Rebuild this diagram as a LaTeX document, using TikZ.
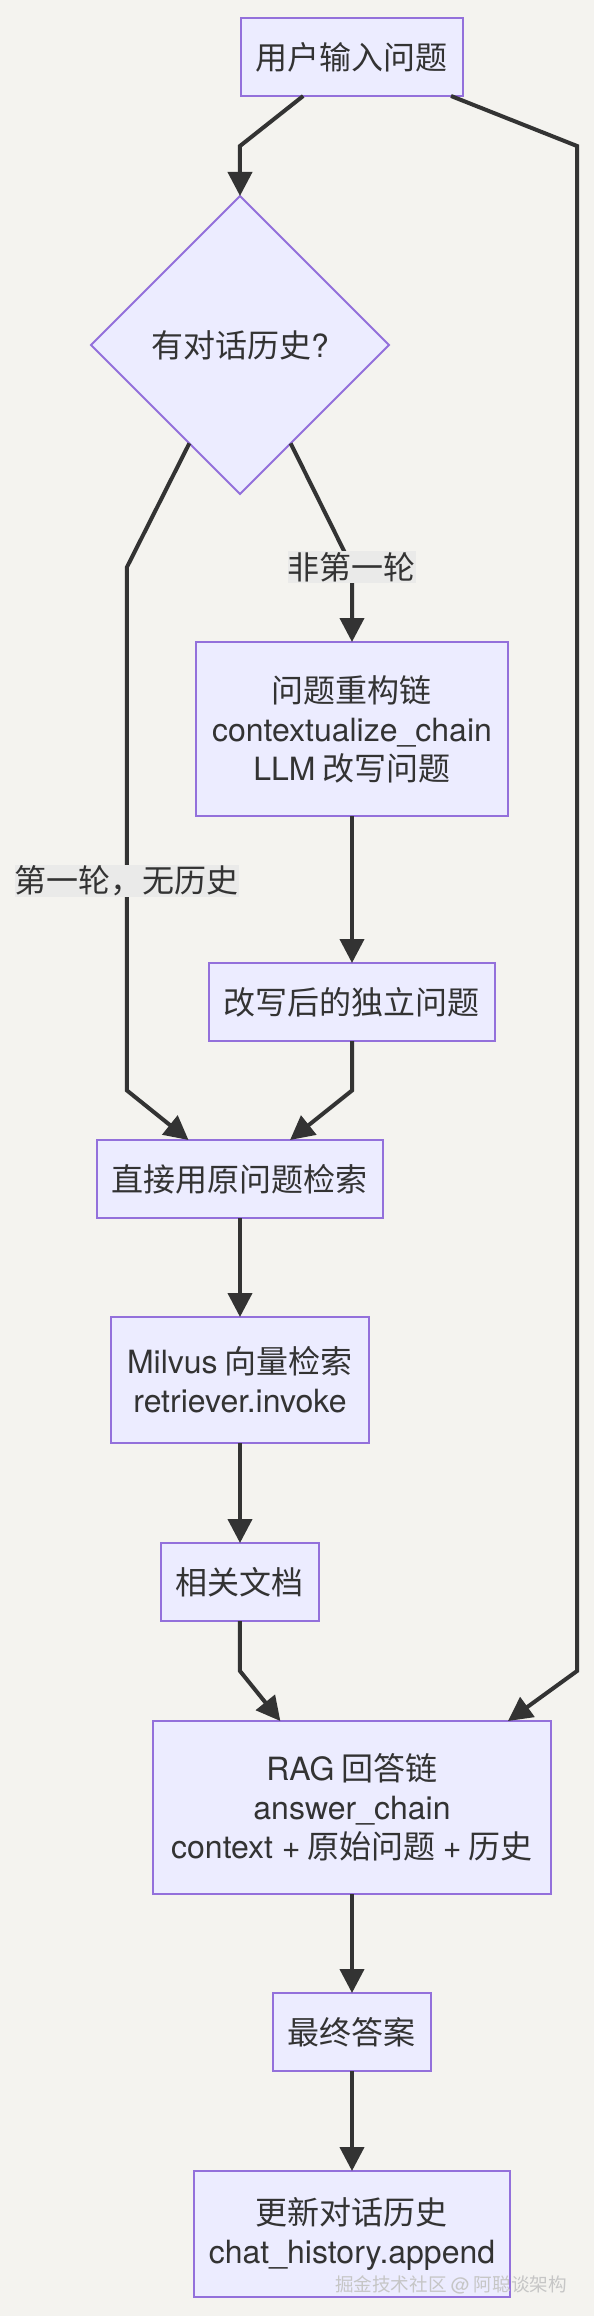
\documentclass[tikz,border=0pt]{standalone}
\usepackage{fontspec}
\setmainfont{Noto Sans CJK SC}
\newfontfamily\en{TeX Gyre Heros}
\usetikzlibrary{arrows.meta, calc, positioning, shapes.geometric}
\definecolor{paper}{HTML}{F4F3EF}
\definecolor{boxfill}{HTML}{ECECFF}
\definecolor{boxline}{HTML}{9370DB}
\definecolor{ink}{HTML}{333333}
\definecolor{tagfill}{HTML}{EAEAE9}
\tikzstyle{block} = [draw=boxline, fill=boxfill, line width=1pt, rectangle, text=ink, align=center, inner sep=0pt, outer sep=0pt, font=\fontsize{16pt}{19.5pt}\selectfont]
\tikzstyle{decision} = [block, diamond, aspect=1, minimum size=149pt]
\tikzstyle{tag} = [fill=tagfill, text=ink, inner xsep=0pt, inner ysep=0.5pt, outer sep=0pt, font=\fontsize{16pt}{19.5pt}\selectfont]
\tikzstyle{link} = [-{Triangle[length=12pt, width=12pt]}, line width=2pt, draw=ink]
\tikzstyle{watermark} = [anchor=east, text=gray!45, font=\fontsize{9.3pt}{11pt}\selectfont]

\begin{document}
\begin{tikzpicture}[node distance=50pt]
    % Background.
    \fill [paper] (-176pt, 28.5pt) rectangle (121pt, -1129.5pt);
    \useasboundingbox (-176pt, 28.5pt) rectangle (121pt, -1129.5pt);

    % Steps.
    \node (ask) [block, minimum width=111pt, minimum height=39pt] {用户输入问题};
    \node (history) [decision, below=of ask, xshift=-56pt] {有对话历史{\en ?}};
    \node (rewrite) [block, minimum width=155.5pt, minimum height=87pt, below=74pt of history, xshift=56pt] {问题重构链\\{\en contextualize\_chain}\\{\en LLM} 改写问题};
    \node (standalone) [block, minimum width=143pt, minimum height=39pt, below=73.5pt of rewrite] {改写后的独立问题};
    \node (direct) [block, minimum width=143pt, minimum height=39pt, below=49.5pt of standalone, xshift=-56pt] {直接用原问题检索};
    \node (milvus) [block, minimum width=129pt, minimum height=63pt, below=49.5pt of direct] {{\en Milvus} 向量检索\\{\en retriever.invoke}};
    \node (docs) [block, minimum width=79pt, minimum height=39pt, below=of milvus] {相关文档};
    \node (rag) [block, minimum width=199pt, minimum height=86.5pt, below=of docs, xshift=56pt] {{\en RAG} 回答链\\{\en answer\_chain}\\{\en context +} 原始问题 {\en +} 历史};
    \node (final) [block, minimum width=79pt, minimum height=39pt, below=49.5pt of rag] {最终答案};
    \node (update) [block, minimum width=158pt, minimum height=63pt, below=of final] {更新对话历史\\{\en chat\_history.append}};

    % Bends.
    \coordinate (top) at ($(ask.south)!.5!(history.north)$);
    \coordinate (split) at ([yshift=37.5pt]rewrite.north);
    \coordinate (mid) at ($(standalone.south)!.5!(direct.north)$);
    \coordinate (low) at ($(docs.south)!.5!(rag.north)$);
    \coordinate (bypass) at ([xshift=15pt]direct.west);
    \coordinate (rail) at ([xshift=13pt]rag.east);

    % Arrows.
    \draw [link] ($(ask.south west)!.28!(ask.south east)$) -- (history.north |- top) -- (history);
    \draw [link] ($(ask.south west)!.946!(ask.south east)$) -- (rail |- top) -- (rail |- low) -- ($(rag.north west)!.892!(rag.north east)$);
    \draw [link] ($(history.west)!.66!(history.south)$) -- (bypass |- split) -- node [tag, pos=.6] {第一轮，无历史} (bypass |- mid) -- ($(direct.north west)!.32!(direct.north east)$);
    \draw [link] ($(history.east)!.66!(history.south)$) -- (split) node [tag] {非第一轮} -- (rewrite);
    \draw [link] (standalone) -- (standalone |- mid) -- ($(direct.north west)!.675!(direct.north east)$);
    \draw [link] (docs) -- (docs |- low) -- ($(rag.north west)!.32!(rag.north east)$);

    \foreach \a/\b in {rewrite/standalone, direct/milvus, milvus/docs, rag/final, final/update} {
        \draw [link] (\a) -- (\b);
    }

    % Watermark.
    \node (credit) [watermark] at ([xshift=32pt, yshift=-25.5pt]update.east) {掘金技术社区 {\en @} 阿聪谈架构};
\end{tikzpicture}
\end{document}
